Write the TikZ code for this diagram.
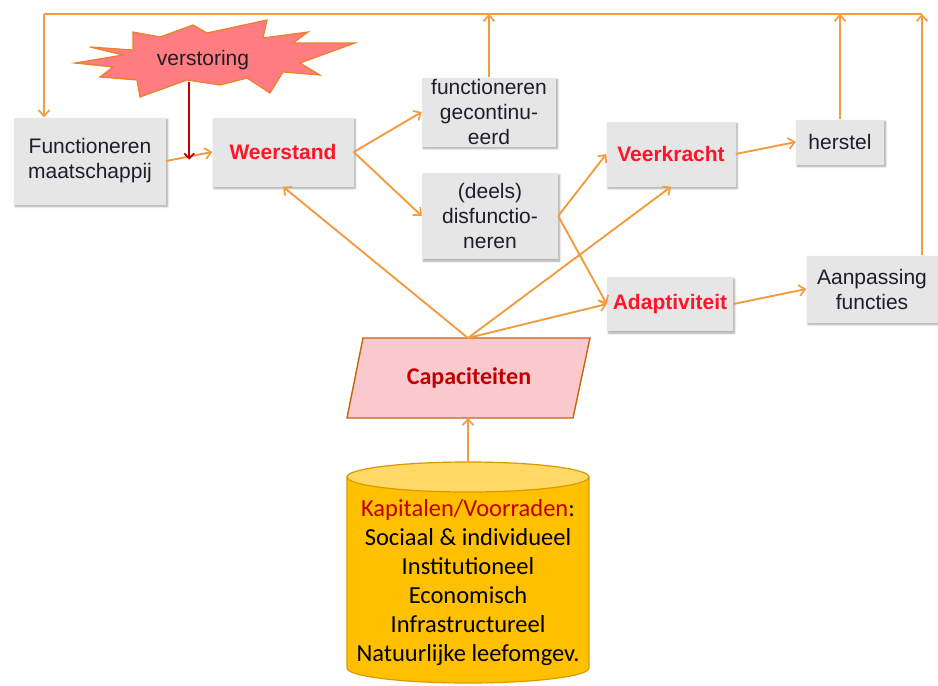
\documentclass[tikz,border=0pt]{standalone}
\usepackage{fontspec}
\setmainfont{Liberation Sans}
\newfontfamily\calib{Carlito}
\usepackage{xcolor}
\usepackage{tikz}
\usetikzlibrary{
	positioning,    % relatieve plaatsing
	arrows.meta,    % pijlpunten
	calc,           % coordinaten berekenen
	shadows.blur    % schaduw onder de dozen
}

\definecolor{lijnoranje}{HTML}{F39B3F}
\definecolor{doosgrijs}{HTML}{E6E6E6}
\definecolor{tekstzwart}{HTML}{1E1E28}
\definecolor{tekstrood}{HTML}{FF1428}
\definecolor{donkerrood}{HTML}{C00000}
\definecolor{sterrood}{HTML}{FF7C80}
\definecolor{sterrand}{HTML}{E8822A}
\definecolor{caproze}{HTML}{F9C9CD}
\definecolor{caprand}{HTML}{C8640A}
\definecolor{cylgoud}{HTML}{FFC000}
\definecolor{cyltop}{HTML}{FFD966}
\definecolor{cylrand}{HTML}{D89A00}

\tikzset{
	doos/.style={fill=doosgrijs, align=center, inner sep=0pt, text=tekstzwart,
		font=\fontsize{21}{25}\selectfont,
		blur shadow={shadow xshift=1.5pt, shadow yshift=-2pt, shadow blur steps=6, shadow opacity=35}},
	rood/.style={text=tekstrood, font=\fontsize{21}{25}\selectfont\bfseries},
	lijn/.style={draw=lijnoranje, line width=1.9pt},
	pijl/.style={lijn, -{Straight Barb[length=6pt,width=11pt,line width=1.7pt]}},
}

\begin{document}
\begin{tikzpicture}[x=1pt, y=-1pt]
		\useasboundingbox (0,0) rectangle (938,686);
		
		% --- Verstoring (ster) ---
		\filldraw[fill=sterrood, draw=sterrand, line width=1.2pt]
		(75,63) -- (123,55) -- (90,47) -- (133,50) -- (133,32) -- (160,37) -- (193,25)
		-- (207,33) -- (267,20) -- (263,38) -- (308,32) -- (293,43) -- (355,43)
		-- (300,63) -- (320,75) -- (283,72) -- (270,93) -- (247,78) -- (220,85)
		-- (187,80) -- (140,97) -- (137,80) -- (100,77) -- (113,67) -- cycle;
		\node[text=tekstzwart, font=\fontsize{21}{25}\selectfont] (vs) at (203,60) {verstoring};
		
		% --- Dozen ---
		\node[doos, minimum width=152, minimum height=87] (fm) at (90,161) {Functioneren\\maatschappij};
		\node[doos, rood, minimum width=141, minimum height=69] (ws) at (283,152) {Weerstand};
		\node[doos, minimum width=134, minimum height=69] (fc) at (489,112) {functioneren\\gecontinu-\\eerd};
		\node[doos, minimum width=136, minimum height=86] (df) at (490,216) {(deels)\\disfunctio-\\neren};
		\node[doos, rood, minimum width=129, minimum height=65] (vk) at (671,154) {Veerkracht};
		\node[doos, minimum width=88, minimum height=45] (hs) at (840,142) {herstel};
		\node[doos, rood, minimum width=126, minimum height=54] (ad) at (670,304) {Adaptiviteit};
		\node[doos, minimum width=131, minimum height=67] (ap) at (872,289) {Aanpassing\\functies};
		
		% --- Capaciteiten (parallellogram) ---
		\filldraw[fill=caproze, draw=caprand, line width=1.4pt]
		(363,338) -- (590,338) -- (573,418) -- (347,418) -- cycle;
		\node[text=donkerrood, font=\calib\fontsize{24}{28}\selectfont\bfseries] (cap) at (469,378) {Capaciteiten};
		\coordinate (captop) at (468,338);
		\coordinate (capbot) at (468,418);
		
		% --- Kapitalen (cilinder) ---
		\filldraw[fill=cylgoud, draw=cylrand, line width=1.2pt]
		(347,477) -- (347,668) arc[start angle=180, end angle=0, x radius=121, y radius=15] -- (589,477) -- cycle;
		\filldraw[fill=cyltop, draw=cylrand, line width=1.2pt] (468,477) ellipse [x radius=121, y radius=15];
		\coordinate (cyltopp) at (468,462);
		\node[align=center, text=black, font=\calib\fontsize{24.5}{29}\selectfont] (kap) at (468,583)
		{{\color{donkerrood}Kapitalen/Voorraden}:\\Sociaal \& individueel\\Institutioneel\\Economisch\\Infrastructureel\\Natuurlijke leefomgev.};
		
		% --- Terugkoppeling bovenaan ---
		\coordinate (tl) at (44,14);
		\coordinate (tr) at (922,14);
		\draw[lijn] (tl) -- (tr);
		\draw[pijl] (tl) -- (tl |- fm.north);
		\draw[pijl] (fc.north) -- (fc.north |- tr);
		\draw[pijl] (hs.north) -- (hs.north |- tr);
		\draw[pijl] (tr |- ap.north) -- (tr);
		
		% --- Verbindingen ---
		\draw[pijl] (fm.east) -- (ws.west);
		\coordinate (hit) at ($(fm.east)!0.5!(ws.west)$);
		\draw[draw=donkerrood, line width=1.8pt, -{Straight Barb[length=5pt,width=10pt,line width=1.6pt]}]
		(hit |- 0,82) -- ([yshift=-3pt]hit);
		\draw[pijl] (ws.east) -- (fc.west);
		\draw[pijl] (ws.east) -- (df.west);
		\draw[pijl] (df.east) -- (vk.west);
		\draw[pijl] (df.east) -- (ad.west);
		\draw[pijl] (vk.east) -- (hs.west);
		\draw[pijl] (ad.east) -- (ap.west);
		\draw[pijl] (captop) -- (ws.south);
		\draw[pijl] (captop) -- (vk.south);
		\draw[pijl] (captop) -- (ad.west);
		\draw[pijl] (cyltopp) -- (capbot);
	\end{tikzpicture}
\end{document}
